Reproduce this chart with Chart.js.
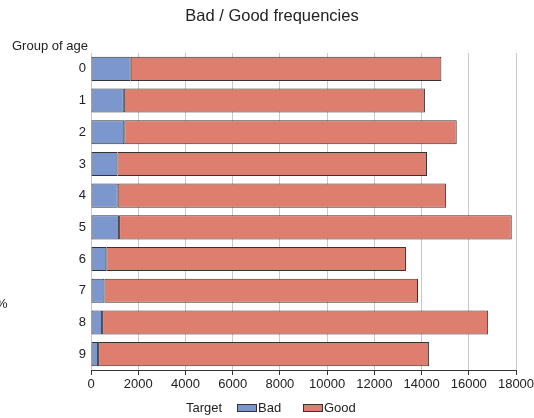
<!DOCTYPE html>
<html>
<head>
<meta charset="utf-8">
<script src="https://cdn.jsdelivr.net/npm/chart.js@4"></script>
<style>
html,body{margin:0;padding:0;background:#fff;}
#wrap{width:534px;height:418px;position:relative;}
</style>
</head>
<body>
<div id="wrap"><canvas id="c" width="534" height="418"></canvas></div>
<script>
const categories = ['0','1','2','3','4','5','6','7','8','9'];
const badValues  = [1680, 1390, 1410, 1120, 1130, 1190, 650, 570, 470, 300];
const goodValues = [13160, 12760, 14080, 13110, 13910, 16630, 12690, 13280, 16350, 14020];
const xTicks = [0,2000,4000,6000,8000,10000,12000,14000,16000,18000];
const seriesNames = ['Bad','Good'];
const titleText = 'Bad / Good frequencies';
const yTitleText = 'Group of age';
const legendTitle = 'Target';

const BLUE = '#7b97cd';
const RED = '#de7e6f';
const FONT = '"Liberation Sans", Arial, sans-serif';

const decor = {
  id: 'decor',
  afterDraw(chart) {
    const ctx = chart.ctx;
    ctx.save();
    ctx.fillStyle = '#222';
    ctx.textBaseline = 'middle';
    ctx.font = '16.5px ' + FONT;
    ctx.textAlign = 'center';
    ctx.fillText(titleText, 272, 16);
    ctx.font = '13px ' + FONT;
    ctx.textAlign = 'left';
    ctx.fillText(yTitleText, 12, 46);
    ctx.fillText('%', -4, 304);
    // legend
    ctx.fillText(legendTitle, 186, 408);
    const items = [[237, BLUE, seriesNames[0]], [303, RED, seriesNames[1]]];
    items.forEach(([x, col, label]) => {
      ctx.fillStyle = col;
      ctx.fillRect(x, 405, 19, 6);
      ctx.strokeStyle = '#333';
      ctx.lineWidth = 1;
      ctx.strokeRect(x + 0.5, 404.5, 19, 7);
      ctx.fillStyle = '#222';
      ctx.fillText(label, x + 21, 408);
    });
    ctx.restore();
  }
};

new Chart(document.getElementById('c'), {
  type: 'bar',
  data: {
    labels: categories,
    datasets: [
      { label: seriesNames[0], data: badValues, backgroundColor: BLUE, borderColor: '#333', borderWidth: 1, borderSkipped: false, barPercentage: 0.76, categoryPercentage: 1 },
      { label: seriesNames[1], data: goodValues, backgroundColor: RED, borderColor: '#333', borderWidth: 1, borderSkipped: false, barPercentage: 0.76, categoryPercentage: 1 }
    ]
  },
  options: {
    indexAxis: 'y',
    responsive: false,
    animation: false,
    devicePixelRatio: 1,
    layout: { padding: { left: 0, top: 53, right: 18, bottom: 0 } },
    plugins: { legend: { display: false }, title: { display: false }, tooltip: { enabled: false } },
    scales: {
      x: {
        stacked: true,
        min: 0, max: 18000,
        afterFit(s) { s.height = 48; s.paddingLeft = 0; s.paddingRight = 0; },
        afterBuildTicks(s) { s.ticks = xTicks.map(v => ({ value: v })); },
        grid: { color: '#c8c8c8', lineWidth: 1, drawTicks: true, tickLength: 5, tickColor: '#333' },
        border: { display: true, color: '#333' },
        ticks: { color: '#222', font: { family: FONT, size: 13 }, padding: 2, maxRotation: 0, callback: v => String(v) }
      },
      y: {
        stacked: true,
        afterFit(s) { s.width = 91; },
        grid: { display: false, drawTicks: false },
        border: { display: false },
        ticks: { color: '#222', font: { family: FONT, size: 13 }, padding: 5 }
      }
    }
  },
  plugins: [decor]
});
</script>
</body>
</html>
